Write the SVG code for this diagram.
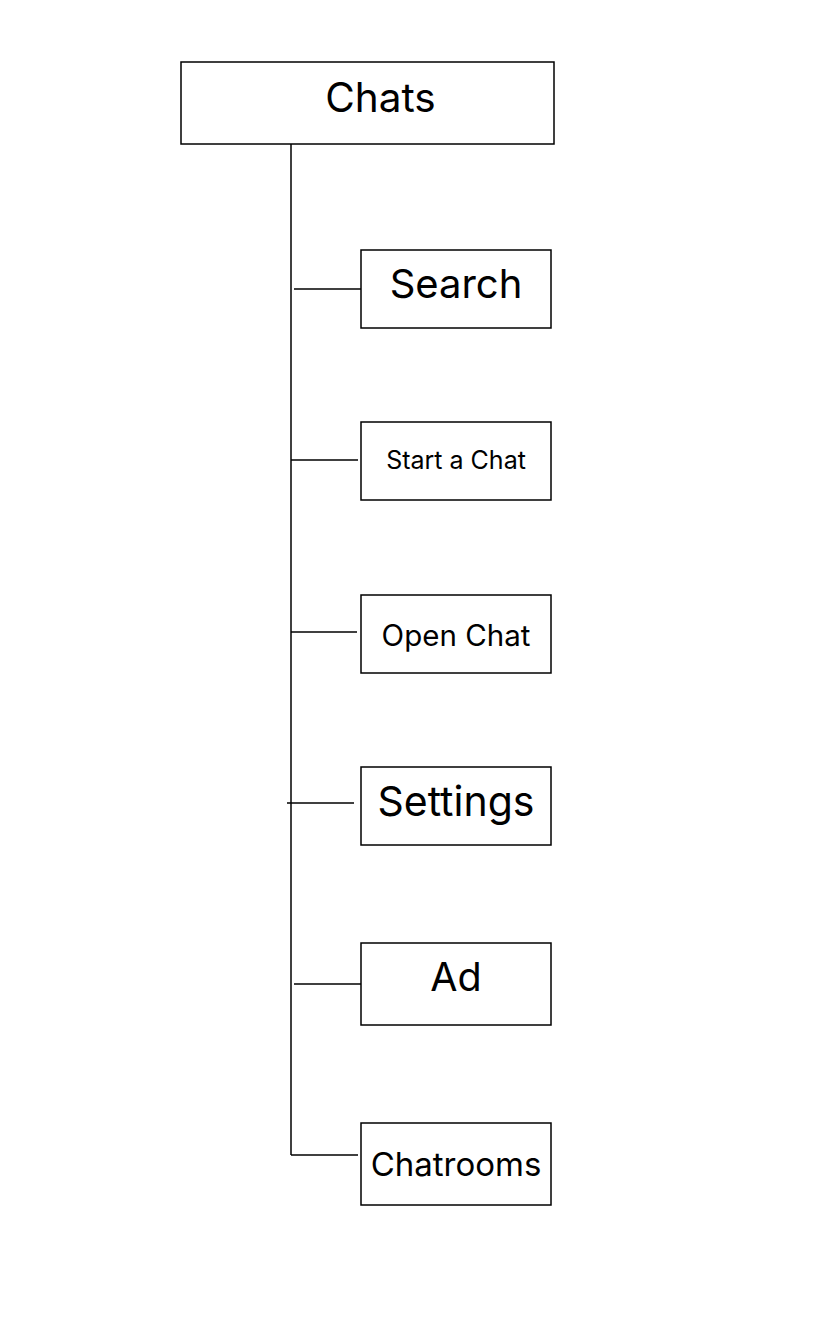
<svg xmlns="http://www.w3.org/2000/svg" width="814" height="1330" viewBox="0 0 814 1330">
<style>
rect{fill:#fff;stroke:#000;stroke-width:1.5}
line{stroke:#000;stroke-width:1.5}
text{font-family:Inter,"Noto Sans",sans-serif;fill:#000;text-anchor:middle}
</style>
<rect x="0" y="0" width="814" height="1330" style="stroke:none"/>
<g id="connectors">
<line x1="291" y1="144" x2="291" y2="1155"/>
<line x1="294" y1="289" x2="361" y2="289"/>
<line x1="291" y1="460" x2="358" y2="460"/>
<line x1="291" y1="632" x2="357" y2="632"/>
<line x1="287" y1="803" x2="354" y2="803"/>
<line x1="294" y1="984" x2="361" y2="984"/>
<line x1="291" y1="1155" x2="358" y2="1155"/>
</g>
<g id="chats"><rect x="181" y="62" width="373" height="82"/><text x="380.5" y="112" font-size="40.5">Chats</text></g>
<g id="search"><rect x="361" y="250" width="190" height="78"/><text x="456" y="298" font-size="40">Search</text></g>
<g id="start"><rect x="361" y="422" width="190" height="78"/><text x="456" y="469" font-size="25">Start a Chat</text></g>
<g id="open"><rect x="361" y="595" width="190" height="78"/><text x="456" y="646" font-size="29.5">Open Chat</text></g>
<g id="settings"><rect x="361" y="767" width="190" height="78"/><text x="456" y="816" font-size="41">Settings</text></g>
<g id="ad"><rect x="361" y="943" width="190" height="82"/><text x="456" y="991" font-size="39.5">Ad</text></g>
<g id="chatrooms"><rect x="361" y="1123" width="190" height="82"/><text x="456" y="1176" font-size="33">Chatrooms</text></g>
</svg>
